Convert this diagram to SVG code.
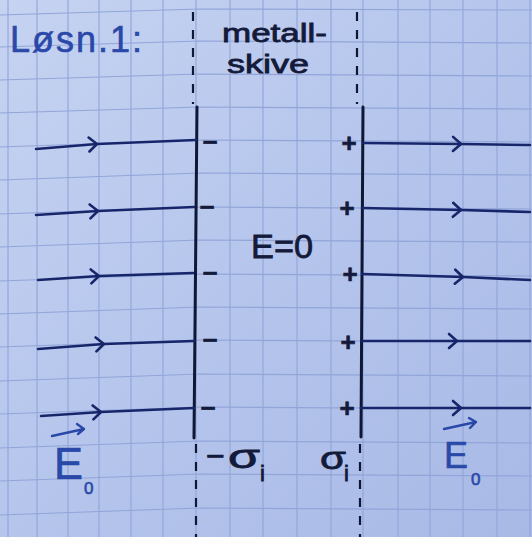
<svg xmlns="http://www.w3.org/2000/svg" width="532" height="537" viewBox="0 0 532 537">
  <defs>
    <linearGradient id="paper" x1="0" y1="0" x2="1" y2="1">
      <stop offset="0" stop-color="#c6d3f1"/>
      <stop offset="0.5" stop-color="#b5c5ec"/>
      <stop offset="1" stop-color="#a8b9e6"/>
    </linearGradient>
    <marker id="chev" markerUnits="userSpaceOnUse" viewBox="-10 -9 12 18" refX="0" refY="0" markerWidth="12" markerHeight="18" orient="auto" overflow="visible">
      <path d="M -8 -7 L 0 0 L -8 7" fill="none" stroke="#17266a" stroke-width="2.6" stroke-linecap="round" stroke-linejoin="round"/>
    </marker>
  </defs>
  <style>
    .grid { stroke: #91a5d9; stroke-width: 1.1; fill: none; }
    .field { fill: none; stroke: #17266a; stroke-width: 2.6; stroke-linecap: round; marker-mid: url(#chev); }
    .plate { fill: none; stroke: #0f1736; stroke-width: 3; stroke-linecap: round; }
    .dash { fill: none; stroke: #0f1736; stroke-width: 2.2; stroke-dasharray: 9 9; }
    .ink { font-family: "Liberation Sans", "DejaVu Sans", sans-serif; fill: #141a3a; stroke: #141a3a; stroke-width: 0.8; }
    .blue { font-family: "Liberation Sans", "DejaVu Sans", sans-serif; fill: #2a48a8; stroke: #2a48a8; stroke-width: 0.6; }
    .sign { font-family: "Liberation Sans", "DejaVu Sans", sans-serif; font-weight: bold; fill: #141a3a; stroke: #141a3a; stroke-width: 0.6; font-size: 26px; text-anchor: middle; }
    .vecarrow { fill: none; stroke: #2a48a8; stroke-width: 2.4; stroke-linecap: round; stroke-linejoin: round; }
  </style>

  <!-- paper -->
  <rect x="0" y="0" width="532" height="537" fill="url(#paper)"/>
  <g id="grid" class="grid">
    <path d="M8 0V537M37 0V537M68 0V537M99 0V537M131 0V537M163 0V537M196 0V537M230 0V537M263 0V537M297 0V537M331 0V537M363 0V537M398 0V537M430 0V537M463 0V537M497 0V537M530 0V537"/>
    <path d="M0 15L200 9L532 10M0 47L200 41L532 43M0 80L200 74L532 76M0 113L200 107L532 109M0 147L200 140L532 142M0 180L200 173L532 175M0 214L200 207L532 209M0 247L200 240L532 242M0 281L200 274L532 276M0 314L200 307L532 309M0 347L200 340L532 342M0 381L200 374L532 376M0 414L200 407L532 409M0 448L200 441L532 443M0 481L200 474L532 476M0 515L200 508L532 510"/>
  </g>

  <!-- title -->
  <g id="title">
    <text class="blue" x="10" y="52" font-size="36" textLength="132" lengthAdjust="spacing">Løsn.1:</text>
  </g>

  <!-- metal plate -->
  <g id="plate">
    <path class="dash" d="M193 12V104"/>
    <path class="dash" d="M357 12V104"/>
    <path class="plate" d="M197 107L194 438"/>
    <path class="plate" d="M363 107L361 437"/>
    <path class="dash" d="M196 444V537"/>
    <path class="dash" d="M360 444V537"/>
    <text class="ink" x="222" y="42" font-size="26" textLength="105" lengthAdjust="spacingAndGlyphs">metall-</text>
    <text class="ink" x="227" y="73" font-size="26" textLength="82" lengthAdjust="spacingAndGlyphs">skive</text>
  </g>

  <!-- inside field -->
  <g id="inside">
    <text class="ink" x="251" y="258" font-size="34" textLength="62" lengthAdjust="spacingAndGlyphs">E=0</text>
  </g>

  <!-- surface charges -->
  <g id="neg-charges">
    <text class="sign" x="210" y="151">−</text>
    <text class="sign" x="207" y="216">−</text>
    <text class="sign" x="210" y="282">−</text>
    <text class="sign" x="210" y="349">−</text>
    <text class="sign" x="208" y="417">−</text>
  </g>
  <g id="pos-charges">
    <text class="sign" x="349" y="152">+</text>
    <text class="sign" x="347" y="217">+</text>
    <text class="sign" x="350" y="283">+</text>
    <text class="sign" x="348" y="351">+</text>
    <text class="sign" x="347" y="417">+</text>
  </g>

  <!-- field lines (connectors) -->
  <g id="connectors">
    <path class="field" d="M36 149L97 144L196 140"/>
    <path class="field" d="M36 215L98 211L194 207"/>
    <path class="field" d="M38 280L99 276L193 273"/>
    <path class="field" d="M38 349L104 344L194 341"/>
    <path class="field" d="M41 416L101 412L194 408"/>
    <path class="field" d="M363 143L461 144L530 145"/>
    <path class="field" d="M362 208L461 210L530 212"/>
    <path class="field" d="M362 274L463 277L530 280"/>
    <path class="field" d="M362 341L457 341L530 341"/>
    <path class="field" d="M361 408L461 408L530 408"/>
  </g>

  <!-- labels -->
  <g id="label-E0-left">
    <path class="vecarrow" d="M52 436L84 429M77 424L84 429L78 434"/>
    <text class="blue" x="54" y="479" font-size="44" textLength="29" lengthAdjust="spacingAndGlyphs">E</text>
    <text class="blue" x="84" y="494" font-size="17">0</text>
  </g>
  <g id="label-sigma-left">
    <text class="ink" x="206" y="467" font-size="32">−</text>
    <text class="ink" x="228" y="468" font-size="34" textLength="32" lengthAdjust="spacingAndGlyphs">σ</text>
    <text class="ink" x="260" y="481" font-size="22">i</text>
  </g>
  <g id="label-sigma-right">
    <text class="ink" x="320" y="469" font-size="32" textLength="26" lengthAdjust="spacingAndGlyphs">σ</text>
    <text class="ink" x="344" y="481" font-size="22">i</text>
  </g>
  <g id="label-E0-right">
    <path class="vecarrow" d="M444 429L476 422M469 418L476 422L470 428"/>
    <text class="blue" x="444" y="468" font-size="36" textLength="24" lengthAdjust="spacingAndGlyphs">E</text>
    <text class="blue" x="471" y="485" font-size="17">0</text>
  </g>
</svg>
